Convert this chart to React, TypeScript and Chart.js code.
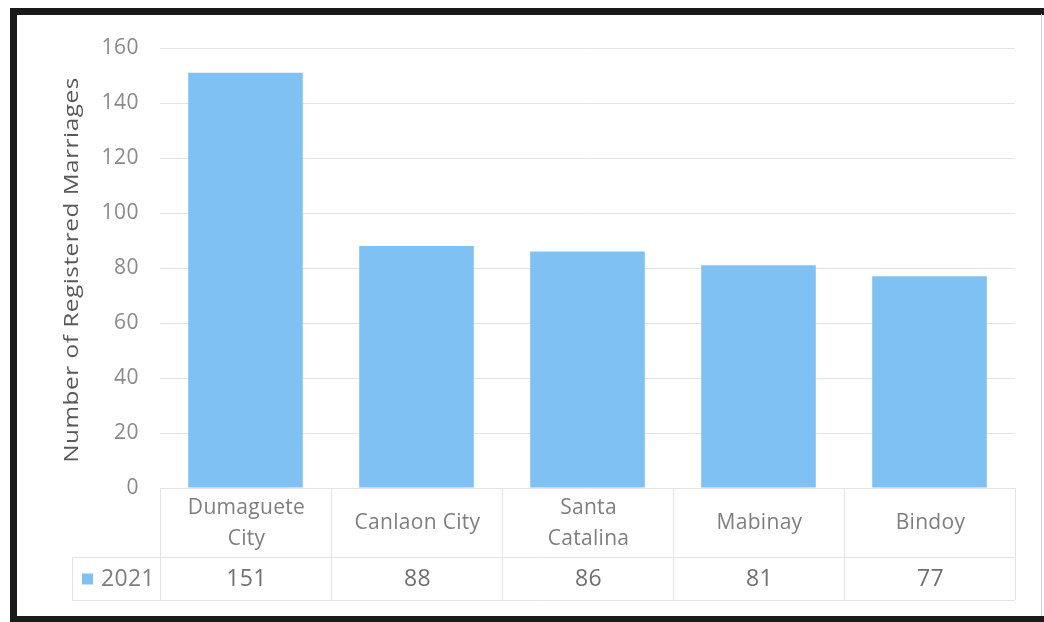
import React, { useEffect, useRef } from "react";
import { Chart, registerables } from "chart.js";

Chart.register(...registerables);

const categories: string[][] = [
  ["Dumaguete", "City"],
  ["Canlaon City"],
  ["Santa", "Catalina"],
  ["Mabinay"],
  ["Bindoy"],
];
const seriesName = "2021";
const values: number[] = [151, 88, 86, 81, 77];
const yTicks = { min: 0, max: 160, step: 20 };
const yTitle = "Number of Registered Marriages";

const FONT = "'Open Sans', 'Liberation Sans', sans-serif";
const BAR = "#80c1f3";
const GRID = "#e4e4e4";
const TEXT = "#7e7e7e";

const spacingPlugin = {
  id: "spacing",
  beforeDraw(chart: any) {
    chart.ctx.letterSpacing = "0.5px";
  },
};

const tablePlugin = {
  id: "dataTable",
  afterDraw(chart: any) {
    const ctx = chart.ctx as any;
    const x = chart.scales.x;
    const area = chart.chartArea;
    const n = categories.length;
    const step = (area.right - area.left) / n;
    const rowTop = area.bottom;
    const rowMid = rowTop + 69;
    const rowBot = rowMid + 43;
    const tableLeft = 72;
    ctx.save();
    ctx.letterSpacing = "0px";
    // grid of table
    ctx.strokeStyle = GRID;
    ctx.lineWidth = 1;
    ctx.beginPath();
    for (let i = 0; i <= n; i++) {
      const bx = Math.round(area.left + i * step) + 0.5;
      ctx.moveTo(bx, rowTop);
      ctx.lineTo(bx, rowBot);
    }
    ctx.moveTo(tableLeft + 0.5, rowMid);
    ctx.lineTo(tableLeft + 0.5, rowBot);
    ctx.moveTo(tableLeft, rowMid + 0.5);
    ctx.lineTo(area.right, rowMid + 0.5);
    ctx.moveTo(tableLeft, rowBot + 0.5);
    ctx.lineTo(area.right, rowBot + 0.5);
    ctx.stroke();

    // category labels
    ctx.fillStyle = TEXT;
    ctx.textAlign = "center";
    ctx.textBaseline = "middle";
    ctx.font = `21px ${FONT}`;
    ctx.letterSpacing = "0.3px";
    const lh = 31;
    categories.forEach((lines, i) => {
      const cx = x.getPixelForValue(i) + 1;
      const cy = (rowTop + rowMid) / 2 + 1;
      const start = cy - ((lines.length - 1) * lh) / 2;
      lines.forEach((ln, j) => ctx.fillText(ln, cx, start + j * lh));
    });
    // values
    ctx.font = `23px ${FONT}`;
    ctx.fillStyle = "#707070";
    values.forEach((v, i) => {
      ctx.fillText(String(v), x.getPixelForValue(i) + 1, (rowMid + rowBot) / 2 + 1);
    });
    // legend key
    const ly = (rowMid + rowBot) / 2;
    ctx.fillStyle = BAR;
    ctx.fillRect(82, ly - 5, 11, 11);
    ctx.fillStyle = TEXT;
    ctx.textAlign = "left";
    ctx.fillText(seriesName, 101, ly + 1);

    // y axis title
    ctx.save();
    ctx.translate(72, (area.top + area.bottom) / 2 + 2);
    ctx.rotate(-Math.PI / 2);
    ctx.scale(1.22, 1);
    ctx.textAlign = "center";
    ctx.fillStyle = "#595959";
    ctx.font = `20px ${FONT}`;
    ctx.letterSpacing = "0.4px";
    ctx.fillText(yTitle, 0, 0);
    ctx.restore();

    // frame
    ctx.strokeStyle = "#1a1a1a";
    ctx.lineWidth = 7;
    ctx.beginPath();
    ctx.moveTo(13.5, 8);
    ctx.lineTo(13.5, 622);
    ctx.moveTo(10, 11.5);
    ctx.lineTo(1044, 11.5);
    ctx.moveTo(10, 619.5);
    ctx.lineTo(1044, 619.5);
    ctx.stroke();
    ctx.strokeStyle = "#d0d0d0";
    ctx.lineWidth = 1;
    ctx.beginPath();
    ctx.moveTo(1041.5, 14);
    ctx.lineTo(1041.5, 616);
    ctx.stroke();
    ctx.restore();
  },
};

export default function App() {
  const ref = useRef<HTMLCanvasElement | null>(null);
  useEffect(() => {
    if (!ref.current) return;
    const chart = new Chart(ref.current, {
      type: "bar",
      data: {
        labels: categories.map((c) => c.join(" ")),
        datasets: [
          {
            label: seriesName,
            data: values,
            backgroundColor: BAR,
            categoryPercentage: 0.67,
            barPercentage: 1,
          },
        ],
      },
      options: {
        animation: false,
        responsive: false,
        maintainAspectRatio: false,
        layout: { padding: { top: 48, left: 20, right: 29, bottom: 0 } },
        plugins: { legend: { display: false }, tooltip: { enabled: false } },
        scales: {
          x: {
            ticks: { display: false },
            grid: { display: false },
            border: { display: false },
            afterFit: (s: any) => {
              s.height = 134;
            },
          },
          y: {
            min: yTicks.min,
            max: yTicks.max,
            ticks: {
              stepSize: yTicks.step,
              color: "#8a8a8a",
              font: { family: FONT, size: 21 },
              padding: 21,
            },
            grid: { color: GRID, drawTicks: false },
            border: { display: false },
            afterFit: (s: any) => {
              s.width = 140;
            },
          },
        },
      },
      plugins: [spacingPlugin, tablePlugin],
    });
    return () => chart.destroy();
  }, []);
  return (
    <div style={{ position: "absolute", left: 0, top: 0, width: 1044, height: 622, background: "#fff" }}>
      <canvas ref={ref} width={1044} height={622} style={{ display: "block" }} />
    </div>
  );
}
